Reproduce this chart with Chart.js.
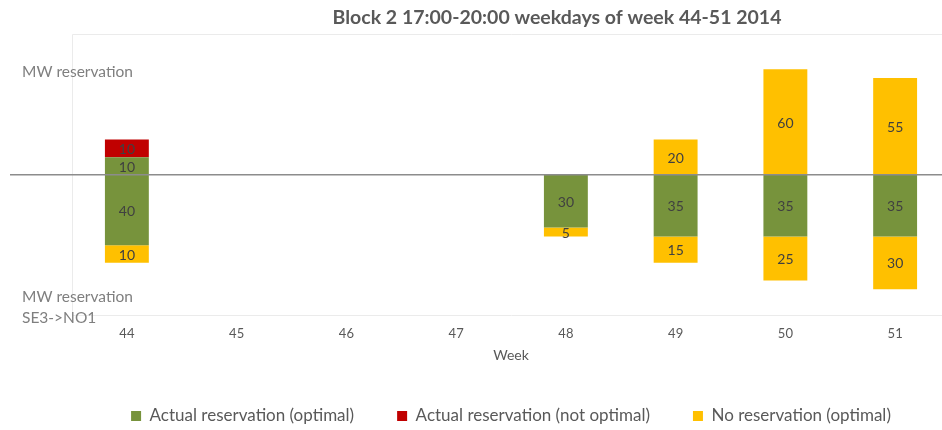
<!DOCTYPE html>
<html>
<head>
<meta charset="utf-8">
<script src="https://cdn.jsdelivr.net/npm/chart.js@4.4.1/dist/chart.umd.min.js"></script>
<style>
    body { margin: 0; overflow: hidden; background: #fff; }
    #wrap { width: 952px; height: 430px; }
</style>
</head>
<body>
<div id="wrap"><canvas id="graph"></canvas></div>
<script>
// weeks on the x axis
const weeks = ['44', '45', '46', '47', '48', '49', '50', '51'];
// MW, positive = up, negative = SE3->NO1
const optimalUp = [10, null, null, null, null, null, null, null];
const optimalDown = [-40, null, null, null, -30, -35, -35, -35];
const notOptimalUp = [10, null, null, null, null, null, null, null];
const noResUp = [null, null, null, null, null, 20, 60, 55];
const noResDown = [-10, null, null, null, -5, -15, -25, -30];
const yTicks = [-80, 80];

const GREEN = '#77933C';
const RED = '#C00000';
const YELLOW = '#FFC000';
const FONT = 'Lato, "Open Sans", sans-serif';

function bar(label, data, color, inLegend){
    return {
        label: label,
        data: data,
        backgroundColor: color,
        stack: 's',
        inLegend: inLegend,
        barPercentage: 0.4,
        categoryPercentage: 1
    };
}

// title, axis notes, frame, zero line and values
const extras = {
    id: 'extras',
    beforeDatasetsDraw(chart){
        const ctx = chart.ctx;
        const a = chart.chartArea;
        ctx.save();
        ctx.strokeStyle = '#ebebeb';
        ctx.lineWidth = 1;
        ctx.beginPath();
        ctx.moveTo(a.left + 0.5, a.bottom);
        ctx.lineTo(a.left + 0.5, a.top + 0.5);
        ctx.lineTo(a.right, a.top + 0.5);
        ctx.stroke();
        ctx.restore();
    },
    afterDatasetsDraw(chart){
        const ctx = chart.ctx;
        const y0 = chart.scales.y.getPixelForValue(0);
        ctx.save();
        //zero line
        ctx.strokeStyle = '#8c8c8c';
        ctx.lineWidth = 1.5;
        ctx.beginPath();
        ctx.moveTo(10, y0);
        ctx.lineTo(chart.width, y0);
        ctx.stroke();

        //values in the segments
        ctx.fillStyle = '#404040';
        ctx.font = '14px ' + FONT;
        ctx.textAlign = 'center';
        ctx.textBaseline = 'middle';
        chart.data.datasets.forEach(function(ds, i){
            const meta = chart.getDatasetMeta(i);
            meta.data.forEach(function(el, j){
                const v = ds.data[j];
                if (v === null || v === 0) return;
                ctx.fillText(String(Math.abs(v)), el.x, (el.y + el.base) / 2 + 1);
            });
        });

        //title
        ctx.fillStyle = '#595959';
        ctx.font = 'bold 19.5px ' + FONT;
        ctx.fillText('Block 2 17:00-20:00 weekdays of week 44-51 2014', 557, 18);

        //axis notes
        ctx.fillStyle = '#7f7f7f';
        ctx.font = '15.5px ' + FONT;
        ctx.textAlign = 'left';
        ctx.fillText('MW reservation', 22, 72);
        ctx.fillText('MW reservation', 22, 297);
        ctx.fillText('SE3->NO1', 22, 318);
        ctx.restore();
    }
};

let container = document.getElementById('graph');
let graph = new Chart(container, {
    type: 'bar',
    data: {
        labels: weeks,
        datasets: [
            bar('Actual reservation (optimal)', optimalUp, GREEN, true),
            bar('Actual reservation (optimal)', optimalDown, GREEN, false),
            bar('Actual reservation (not optimal)', notOptimalUp, RED, true),
            bar('No reservation (optimal)', noResUp, YELLOW, true),
            bar('No reservation (optimal)', noResDown, YELLOW, false)
        ]
    },
    options: {
        responsive: true,
        maintainAspectRatio: false,
        animation: false,
        layout: {
            padding: {left: 72, right: 2, top: 34, bottom: -4.5}
        },
        scales: {
            x: {
                stacked: true,
                grid: {display: false, drawTicks: false},
                border: {display: true, color: '#ebebeb'},
                ticks: {color: '#595959', font: {family: FONT, size: 13}, padding: 10},
                title: {
                    display: true,
                    text: 'Week',
                    color: '#595959',
                    font: {family: FONT, size: 14},
                    padding: {top: -4.6, bottom: 1.1}
                }
            },
            y: {
                stacked: true,
                display: false,
                min: yTicks[0],
                max: yTicks[1]
            }
        },
        plugins: {
            title: {display: false},
            tooltip: {enabled: false},
            legend: {
                position: 'bottom',
                labels: {
                    boxWidth: 10,
                    boxHeight: 10,
                    padding: 43,
                    color: '#595959',
                    font: {family: FONT, size: 17},
                    filter: function(item, data){
                        return data.datasets[item.datasetIndex].inLegend;
                    }
                }
            }
        }
    },
    plugins: [extras]
});
</script>
</body>
</html>
